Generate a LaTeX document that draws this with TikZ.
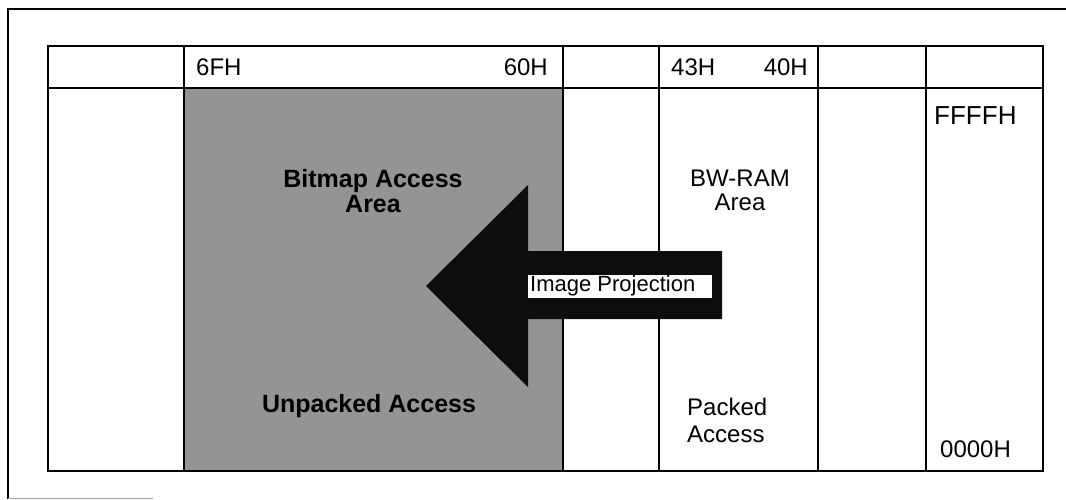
\documentclass[tikz,border=0pt]{standalone}
\usepackage{fontspec}
\setmainfont{Liberation Sans}
\begin{document}
\begin{tikzpicture}[x=1pt,y=-1pt,
  lbl/.style={inner sep=0pt, font=\fontsize{24}{26}\selectfont},
  slbl/.style={inner sep=0pt, font=\fontsize{22}{25}\selectfont},
  blbl/.style={inner sep=0pt, font=\fontsize{25}{27}\selectfont\bfseries},
  rule/.style={line width=1.6pt, black},
  shade/.style={fill=black!42},
  bigarrow/.style={fill=black!95}]
\useasboundingbox (0,0) rectangle (1066,499);
% outer frame
\draw[line width=1.5pt] (8,499) -- (8,9) -- (1066,9);
\draw[black!35, line width=1pt] (8,498) -- (153,498);
% shaded bitmap column
\fill[shade] (184,88) rectangle (563,471);
% table
\draw[rule] (48,46) rectangle (1043,471);
\draw[rule] (48,88) -- (1043,88);
\foreach \xx in {184,563,659,818,926} \draw[rule] (\xx,46) -- (\xx,471);
% big arrow (drawn over the table lines)
\fill[bigarrow] (426,286) -- (528,185) -- (528,251) -- (722,251) -- (722,319) -- (528,319) -- (528,387) -- cycle;
\fill[white] (528,275) rectangle (712,298);
% header labels
\node[lbl, anchor=base west] (h6f) at (196,75) {6FH};
\node[lbl, anchor=base east] (h60) at (548,75) {60H};
\node[lbl, anchor=base west] (h43) at (671,75) {43H};
\node[lbl, anchor=base east] (h40) at (808,75) {40H};
% address labels
\node[lbl, font=\fontsize{26}{28}\selectfont, anchor=base west] (hi) at (934,124) {FFFFH};
\node[lbl, anchor=base west] (lo) at (940,457) {0000H};
% bitmap labels
\node[blbl, anchor=base] (bm1) at (373,187) {Bitmap Access};
\node[blbl, anchor=base] (bm2) at (373,212) {Area};
\node[blbl, anchor=base] (unp) at (369,412) {Unpacked Access};
% BW-RAM labels
\node[lbl, anchor=base] (bw1) at (740,186) {BW-RAM};
\node[lbl, anchor=base] (bw2) at (740,210) {Area};
\node[lbl, anchor=base west] (pk1) at (687,415) {Packed};
\node[lbl, anchor=base west] (pk2) at (687,442) {Access};
% arrow label
\node[slbl, anchor=base west] (proj) at (530,291) {Image Projection};
\end{tikzpicture}
\end{document}
